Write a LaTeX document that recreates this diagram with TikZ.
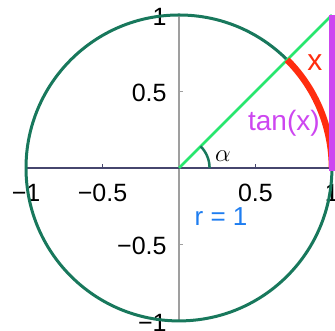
\documentclass[tikz,border=0pt]{standalone}
\usepackage{fontspec}
\setmainfont{Liberation Sans}
\usepackage{amsmath}
\usetikzlibrary{calc}
\definecolor{circlegreen}{RGB}{24,120,92}
\definecolor{linegreen}{RGB}{40,230,110}
\definecolor{arcred}{RGB}{255,45,15}
\definecolor{tanpurple}{RGB}{205,70,240}
\definecolor{radblue}{RGB}{30,125,240}
\definecolor{xaxiscol}{RGB}{70,70,110}
\tikzset{
  ticklabel/.style={font=\fontsize{25}{25}\selectfont,inner sep=0pt},
  axisline/.style={line width=1.1pt},
}

\begin{document}
\begin{tikzpicture}[x=153pt,y=153pt]
  \useasboundingbox (-1.170,-1.065) rectangle (1.020,1.098);
  % axes
  \draw[axisline,gray!75] (0,-1) -- (0,1);
  \draw[axisline,xaxiscol] (-1,0) -- (1,0);
  \foreach \v in {-1,-0.5,0.5,1} {
    \draw[axisline,xaxiscol] (\v,0) -- (\v,0.025);
    \draw[axisline,gray!75] (0,\v) -- (0.025,\v);
  }
  % tick labels
  \foreach \v/\t/\n in {-1/−1/m1,-0.5/−0.5/mh,0.5/0.5/ph,1/1/p1} {
    \node[ticklabel] (xt\n) at (\v,-0.163) {\t};
    \node[ticklabel,anchor=east] (yt\n) at (-0.08,\v-0.012) {\t};
  }
  % unit circle
  \draw[circlegreen,line width=3pt] (0,0) circle (1);
  % angle
  \draw[linegreen,line width=2.7pt] (0,0) -- (1,1);
  \draw[circlegreen,line width=2.5pt] (0.2,0) arc (0:45:0.2);
  \node[font=\fontsize{25}{25}\selectfont,inner sep=0pt] (alpha) at (0.288,0.078) {$\alpha$};
  % arc x and tangent
  \draw[arcred,line width=6.5pt] (1,0) arc (0:45:1);
  \draw[tanpurple,line width=6pt] (1,-0.02) -- (1,1);
  \node[font=\fontsize{30}{30}\selectfont,text=arcred,inner sep=0pt] (lblx) at (0.889,0.686) {x};
  \node[font=\fontsize{28}{28}\selectfont,text=tanpurple,inner sep=0pt] (lbltan) at (0.686,0.291) {tan(x)};
  \node[font=\fontsize{26}{26}\selectfont,text=radblue,inner sep=0pt] (lblr) at (0.275,-0.317) {r = 1};
\end{tikzpicture}
\end{document}
